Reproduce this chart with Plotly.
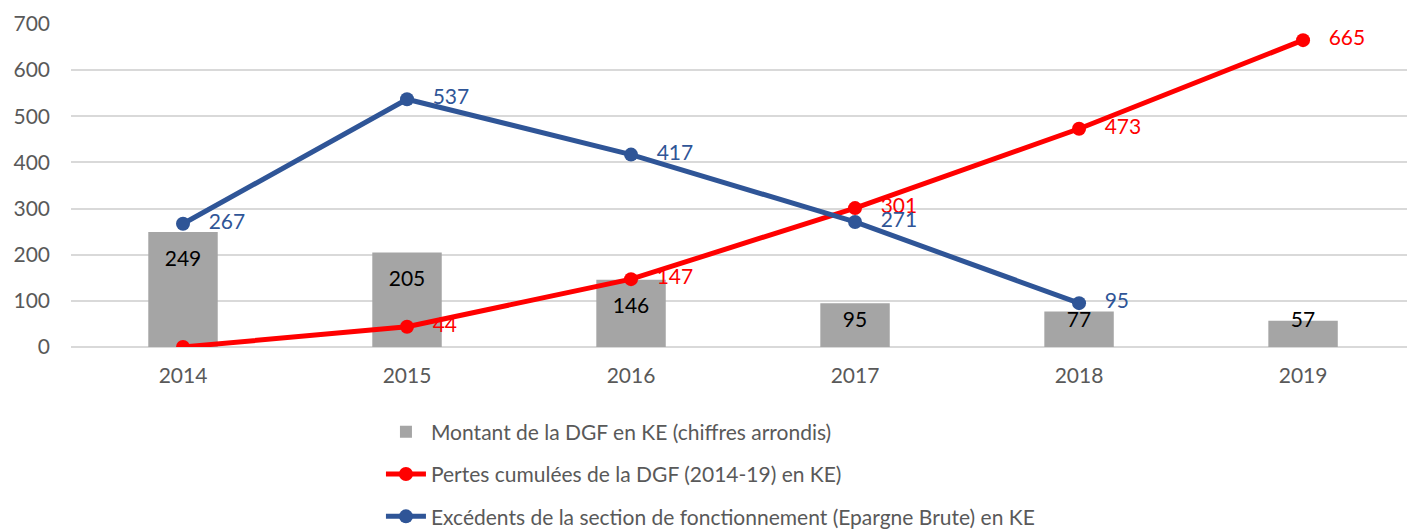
import plotly.graph_objects as go

years = ["2014", "2015", "2016", "2017", "2018", "2019"]
dgf_amount = [249, 205, 146, 95, 77, 57]
cumulative_losses = [0, 44, 147, 301, 473, 665]
surplus = [267, 537, 417, 271, 95]

name_bar = "Montant de la DGF en KE (chiffres arrondis)"
name_red = "Pertes cumulées de la DGF (2014-19) en KE)"
name_blue = "Excédents de la section de fonctionnement (Epargne Brute) en KE"

FONT = "Lato, Carlito, Calibri, sans-serif"
GREY = "#A5A5A5"
RED = "#FF0000"
BLUE = "#2F5597"
FS = 21
PAD = "\u2002 "

# bar label positions: inside end, clamped near the baseline for short bars
bar_label_y = [max(v - 61, 54) for v in dgf_amount]

fig = go.Figure()
fig.add_trace(go.Bar(
    x=years, y=dgf_amount, name=name_bar, marker=dict(color=GREY, line=dict(width=0)),
    width=0.31, legendgroup="a", hoverinfo="y"))
fig.add_trace(go.Scatter(
    x=years, y=bar_label_y, mode="text", text=[str(v) for v in dgf_amount],
    textfont=dict(family=FONT, size=FS, color="#000000"), showlegend=False,
    hoverinfo="skip", textposition="middle center"))
fig.add_trace(go.Scatter(
    x=years, y=cumulative_losses, name=name_red, mode="lines+markers+text",
    line=dict(color=RED, width=5), marker=dict(color=RED, size=14),
    text=[(PAD + str(v)) if v != 0 else "" for v in cumulative_losses],
    textposition="middle right",
    textfont=dict(family=FONT, size=FS, color=RED), legendgroup="b"))
fig.add_trace(go.Scatter(
    x=years[:len(surplus)], y=surplus, name=name_blue, mode="lines+markers+text",
    line=dict(color=BLUE, width=5), marker=dict(color=BLUE, size=14),
    text=[PAD + str(v) for v in surplus], textposition="middle right",
    textfont=dict(family=FONT, size=FS, color=BLUE), legendgroup="c"))

fig.update_layout(
    width=1407, height=530,
    margin=dict(l=71, r=0, t=24, b=183, autoexpand=False),
    paper_bgcolor="white", plot_bgcolor="white",
    font=dict(family=FONT, size=FS, color="#595959"),
    legend=dict(
        x=0.232, xanchor="left", y=-0.2, yanchor="top",
        font=dict(family=FONT, size=FS, color="#595959"),
        traceorder="grouped", tracegroupgap=12, itemwidth=40,
        bgcolor="rgba(0,0,0,0)"),
    showlegend=True,
)
fig.update_xaxes(
    type="category", range=[-0.5, 5.464], showgrid=False, showline=False, automargin=False,
    ticks="", tickfont=dict(family=FONT, size=FS, color="#595959"), ticklabelstandoff=14)
fig.update_yaxes(
    range=[0, 700], dtick=100, showgrid=True, gridcolor="#D9D9D9", gridwidth=1.5,
    automargin=False,
    zeroline=True, zerolinecolor="#D9D9D9", zerolinewidth=1.5, showline=False,
    tickfont=dict(family=FONT, size=FS, color="#595959"), ticklabelstandoff=20)

fig.write_html(
    "out.html",
    config={"displayModeBar": False},
    post_script="document.body.style.margin='0';document.body.style.overflow='hidden';")
